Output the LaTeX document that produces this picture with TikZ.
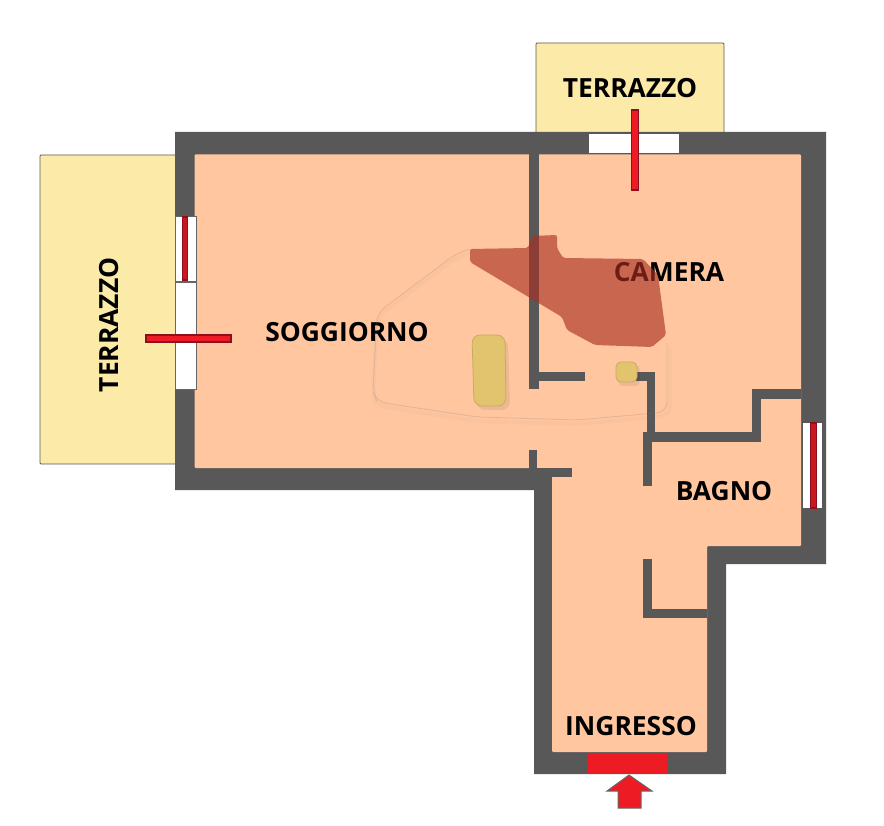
\documentclass[tikz,border=0pt]{standalone}
\usepackage{fontspec}
\setmainfont{Open Sans}
\definecolor{wallc}{HTML}{585858}
\definecolor{floorc}{HTML}{FFC6A0}
\definecolor{terrc}{HTML}{FCEBA8}
\definecolor{redc}{HTML}{ED1C24}
\definecolor{dredc}{HTML}{8E0F1E}
\definecolor{stainc}{HTML}{AA3023}
\definecolor{sofac}{HTML}{E2C36E}
\definecolor{sofae}{HTML}{C9AC62}
\tikzset{
  wall/.style={fill=wallc,draw=none},
  terrace/.style={fill=terrc,draw=black!65,line width=.9pt,rounded corners=1pt},
  opening/.style={fill=white,draw=none},
  openedge/.style={fill=white,draw=black!60,line width=.9pt},
  bar/.style={fill=redc,draw=dredc,line width=1.3pt},
  thinbar/.style={fill=redc!85!black,draw=dredc,line width=1.3pt},
  lab/.style={font=\fontsize{26.4}{29}\selectfont\bfseries,text=black,inner sep=0pt},
  furn/.style={fill=sofac,draw=sofae,line width=.8pt,rounded corners=8pt},
  furnshadow/.style={fill=black,opacity=.07,draw=none,rounded corners=8pt},
  ghost/.style={draw=black!55,opacity=.2,line width=.9pt,rounded corners=10pt},
  ghostshadow/.style={draw=black!50,opacity=.04,line width=4pt,rounded corners=10pt}
}
\begin{document}
\begin{tikzpicture}[x=1pt,y=-1pt]
\useasboundingbox (0,0) rectangle (884,826);
% terraces
\draw[terrace] (536,43) rectangle (724,134);
\draw[terrace] (40,155) rectangle (176,464);
% outer wall
\fill[wall] (175,132) -- (826,132) -- (826,564) -- (726,564) -- (726,774) -- (534,774) -- (534,490) -- (175,490) -- cycle;
% floor
\fill[floorc,rounded corners=1pt] (194.5,154.5) -- (801,154.5) -- (801,546) -- (707,546) -- (707,752) -- (552,752) -- (552,468) -- (194.5,468) -- cycle;
% inner walls
\fill[wall] (529,154) rectangle (539,389);
\fill[wall] (538,372) rectangle (585,381);
\fill[wall] (634,372) rectangle (655,381);
\fill[wall] (647,372) rectangle (655,434);
\fill[wall] (643,432) rectangle (761,442);
\fill[wall] (643,432) rectangle (652,486);
\fill[wall] (752,389) rectangle (761,442);
\fill[wall] (752,389) rectangle (801,399);
\fill[wall] (529,450) rectangle (537,468);
\fill[wall] (529,468) rectangle (572,477);
\fill[wall] (643,559) rectangle (652,618);
\fill[wall] (643,609) rectangle (707,618);
% openings
\fill[opening] (589,134) rectangle (679,153);
\fill[opening] (803,423) rectangle (822,508);
\draw[openedge] (175,216) rectangle (196,281);
\draw[openedge] (175,282) rectangle (196,389);
% bars
\draw[bar] (631.5,110) rectangle (638.5,190);
\draw[thinbar] (810.5,423) rectangle (816.5,508);
\draw[thinbar] (182.5,217) rectangle (187.5,280);
\draw[bar] (146,335) rectangle (231,342);
% labels
\node[lab] (sogg) at (347,332) {SOGGIORNO};
\node[lab] (cam) at (669,272) {CAMERA};
\node[lab] (bag) at (724,491) {BAGNO};
\node[lab] (ingr) at (631,726) {INGRESSO};
\node[lab] (terr1) at (630,88) {TERRAZZO};
\node[lab,rotate=90] (terr2) at (109,325) {TERRAZZO};
% ghost outline
\draw[ghostshadow] (470,253) -- (457,257) -- (377,317) -- (373,396) -- (377,406) -- (477,421) -- (577,424) -- (670,416) -- (670,347);
\draw[ghost] (470,249) -- (457,253) -- (377,313) -- (373,392) -- (377,402) -- (477,417) -- (577,420) -- (667,412) -- (667,343);
% stain
\fill[stainc,opacity=.64,rounded corners=2pt] (470,249) -- (528,248) -- (532,236) -- (557,235) -- (557,248) -- (563,258) -- (643,259) -- (658,275) -- (666,335) -- (652,347) -- (595,345) -- (567,330) -- (562,317) -- (470,262) -- cycle;
% furniture
\fill[furnshadow] (475,339) -- (508,339) -- (510,410) -- (477,410) -- cycle;
\draw[furn] (472,335) -- (505,335) -- (506,406) -- (474,406) -- cycle;
\fill[furnshadow,rounded corners=5pt] (618,365) rectangle (640,386);
\draw[furn,rounded corners=5pt] (616,362) rectangle (637,382);
% entrance
\fill[redc] (588,753) rectangle (668,774);
\draw[fill=redc,draw=black!60,line width=1pt] (629,775) -- (652,791) -- (641,791) -- (641,808) -- (618,808) -- (618,791) -- (607,791) -- cycle;
\end{tikzpicture}
\end{document}
